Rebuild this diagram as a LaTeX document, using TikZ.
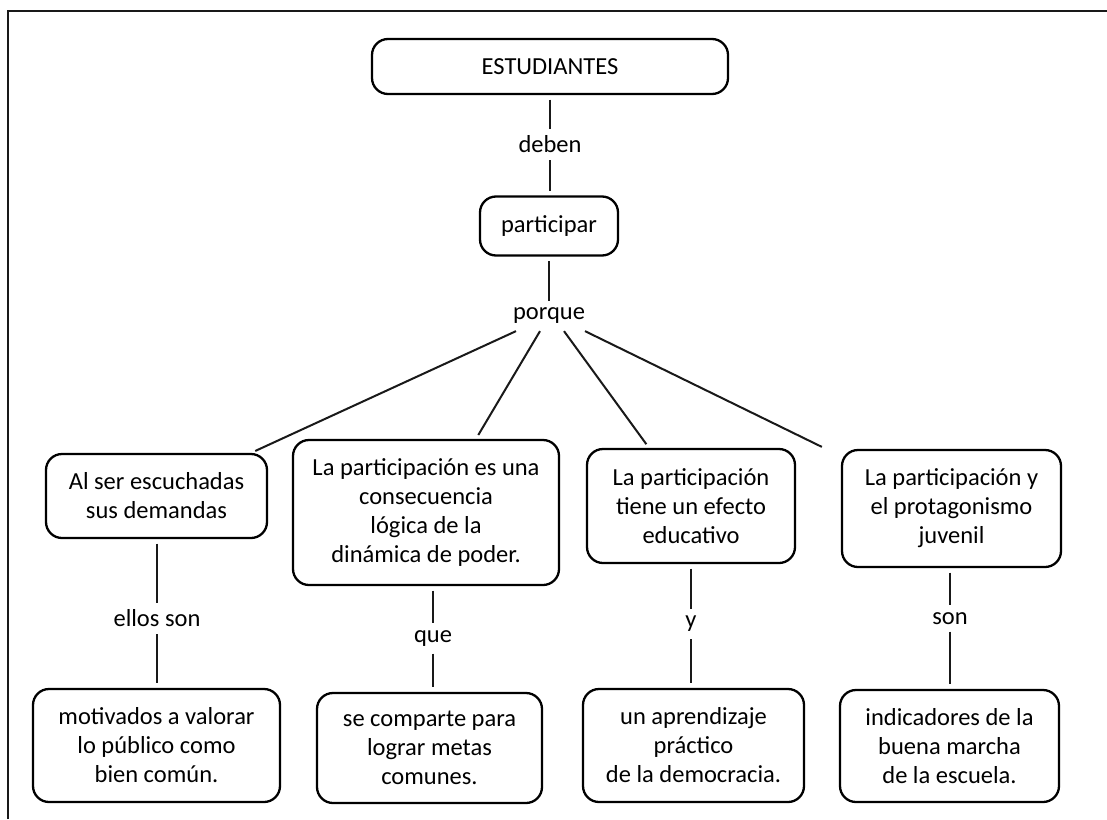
\documentclass[tikz,border=0pt]{standalone}
\usepackage{fontspec}
\setmainfont{Carlito}
\usetikzlibrary{calc}
\begin{document}
\begin{tikzpicture}[x=1pt,y=-1pt,
  txt/.style={font=\fontsize{24.5}{29}\selectfont, text=black},
  box/.style={txt, draw=black, line width=2.3pt, rounded corners=16pt, align=center, inner sep=0pt},
  lbl/.style={txt, inner xsep=2pt, inner ysep=7pt},
  conn/.style={line width=2pt, draw=black!90},
  gapbox/.style={shorten <=4.5pt},
  gapend/.style={shorten >=4.5pt}]
\useasboundingbox (0,0) rectangle (1107,819);
% frame
\draw[line width=1.8pt, black!90] (8,819) -- (8,11) -- (1107,11);

% nodes
\node[box, minimum width=356pt, minimum height=55pt] (est) at (550,66.5) {ESTUDIANTES};
\node[box, minimum width=138pt, minimum height=59pt] (part) at (549,226) {participar};
\node[box, minimum width=221pt, minimum height=84pt] (b1) at (156.5,496) {Al ser escuchadas\\sus demandas};
\node[box, minimum width=266pt, minimum height=145pt] (b2) at (426,512.5) {La participación es una\\consecuencia\\lógica de la\\dinámica de poder.};
\node[box, minimum width=208pt, minimum height=114pt] (b5) at (691,506) {La participación\\tiene un efecto\\educativo};
\node[box, minimum width=219pt, minimum height=117pt] (b6) at (951.5,508.5) {La participación y\\el protagonismo\\juvenil};
\node[box, minimum width=247pt, minimum height=113pt] (b3) at (156.5,745.5) {motivados a valorar\\lo público como\\bien común.};
\node[box, minimum width=225pt, minimum height=110pt] (b4) at (429.5,748) {se comparte para\\lograr metas\\comunes.};
\node[box, minimum width=221pt, minimum height=113pt] (b7) at (693.5,745.5) {un aprendizaje\\práctico\\de la democracia.};
\node[box, minimum width=219pt, minimum height=112pt] (b8) at (949.5,746) {indicadores de la\\buena marcha\\de la escuela.};

% link labels
\node[lbl] (deben) at (550,144.5) {deben};
\node[lbl] (porque) at (549,316) {porque};
\node[lbl] (ellos) at (157,618.5) {ellos son};
\node[lbl] (que) at (433,638.5) {que};
\node[lbl] (ylbl) at (691,624) {y};
\node[lbl] (son) at (950,618.5) {son};

% connectors
\draw[conn, gapbox] (est.south -| deben) -- (deben.north);
\draw[conn, gapend] (deben.south) -- (part.north -| deben);
\draw[conn, gapbox] (part.south -| porque) -- (porque.north);

\draw[conn, gapend] ($(porque.south)+(-33,0)$) -- ($(b1.north east)+(-17,0)$);
\draw[conn, gapend] ($(porque.south)+(-9,0)$) -- ($(b2.north)+(50,0)$);
\draw[conn, gapend] ($(porque.south)+(15,0)$) -- ($(b5.north)+(-42,0)$);
\draw[conn, gapend] ($(porque.south)+(36,0)$) -- ($(b6.north west)+(-15,0)$);

\draw[conn, gapbox] (b1.south -| ellos) -- (ellos.north);
\draw[conn, gapend] (ellos.south) -- (b3.north -| ellos);
\draw[conn, gapbox] (b2.south -| que) -- (que.north);
\draw[conn, gapend] (que.south) -- (b4.north -| que);
\draw[conn, gapbox] (b5.south -| ylbl) -- (ylbl.north);
\draw[conn, gapend] (ylbl.south) -- (b7.north -| ylbl);
\draw[conn, gapbox] (b6.south -| son) -- (son.north);
\draw[conn, gapend] (son.south) -- (b8.north -| son);
\end{tikzpicture}
\end{document}
